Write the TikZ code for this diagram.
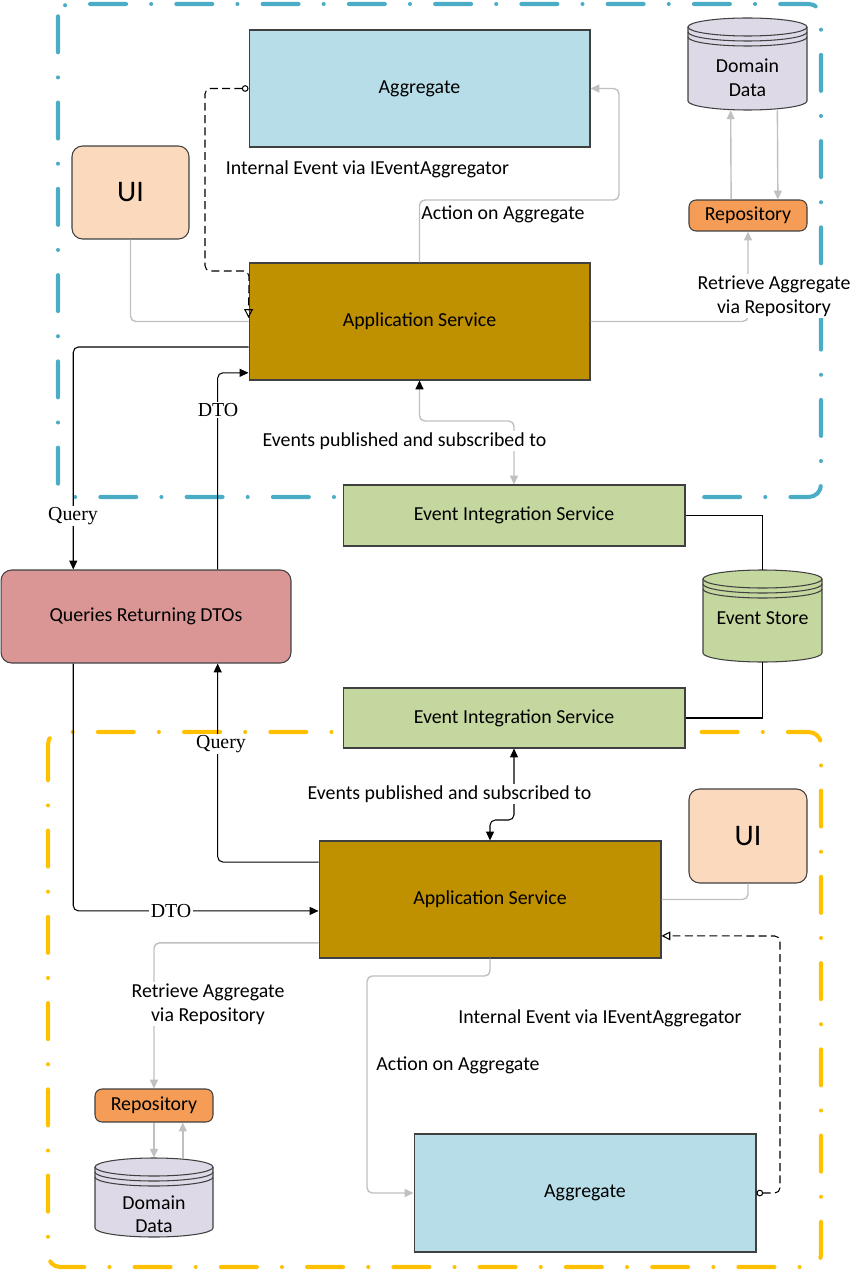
\documentclass[tikz,border=0pt]{standalone}
\usepackage{fontspec}
\setmainfont{Carlito}
\newfontfamily\dtofont{Liberation Serif}
\usetikzlibrary{arrows.meta}

\definecolor{aggfill}{HTML}{B7DDE8}
\definecolor{appfill}{HTML}{BF9000}
\definecolor{eisfill}{HTML}{C4D79F}
\definecolor{uifill}{HTML}{FBD9BD}
\definecolor{repofill}{HTML}{F59D56}
\definecolor{datafill}{HTML}{DDD9E6}
\definecolor{qryfill}{HTML}{D99694}
\definecolor{ctxblue}{HTML}{4BACC6}
\definecolor{ctxgold}{HTML}{FFC000}
\definecolor{softgray}{HTML}{C0C0C0}
\definecolor{boxline}{HTML}{404040}

% database drum: left, top, width, height, fill
\newcommand{\drum}[5]{%
  \filldraw[fill=#5, draw=boxline, line width=0.6pt]
    (#1,#2+9) -- (#1,#2+#4-9) arc (180:0:{#3/2} and 9)
    -- (#1+#3,#2+9) arc (0:-180:{#3/2} and 9) -- cycle;
  \draw[boxline, line width=0.6pt] (#1,#2+9) arc (180:0:{#3/2} and 9)
    (#1,#2+14) arc (180:0:{#3/2} and 9)
    (#1,#2+19) arc (180:0:{#3/2} and 9);
}

\begin{document}
\begin{tikzpicture}[x=0.02cm, y=-0.02cm,
  every node/.style={font=\fontsize{11.3}{13.6}\selectfont},
  box/.style={draw=boxline, line width=0.6pt, inner sep=0pt, align=center},
  tag/.style={fill=white, inner sep=1pt, align=center},
  dtotag/.style={fill=white, inner sep=1pt, font=\dtofont\fontsize{11.3}{13.6}\selectfont},
  ctx/.style={line width=2.3pt, line cap=round, rounded corners=7pt,
    dash pattern=on 20.5pt off 14.3pt on 0pt off 14.3pt},
  flow/.style={draw=black, line width=0.6pt, rounded corners=3pt,
    -{Triangle[length=5pt,width=4.5pt]}},
  flowboth/.style={flow, {Triangle[length=5pt,width=4.5pt]}-{Triangle[length=5pt,width=4.5pt]}},
  plain/.style={draw=black, line width=0.6pt},
  soft/.style={draw=softgray, line width=0.8pt, rounded corners=3pt,
    -{Triangle[length=5pt,width=4.5pt]}},
  softline/.style={draw=softgray, line width=0.8pt, rounded corners=3pt},
  evt/.style={draw=black, line width=0.6pt, dash pattern=on 4.5pt off 2.5pt, rounded corners=3pt,
    {Circle[open,length=3.8pt,width=3.8pt]}-{Triangle[open,length=5pt,width=5pt]}},
]
\useasboundingbox (0,0) rectangle (862,1270);

% Context boundaries
\draw[ctx, ctxblue] (58,4) rectangle (821,497);
\draw[ctx, ctxgold] (48,732) rectangle (821,1267);

% Upper context
\drum{688}{18}{119}{92}{datafill}
\node[minimum width=2.38cm, minimum height=1.84cm, inner sep=0pt,
  label={[align=center, yshift=-8pt]center:Domain\\Data}] (ddT) at (747.5,64) {};
\node[box, fill=aggfill, minimum width=6.82cm, minimum height=2.34cm] (aggT) at (419.5,88.5) {Aggregate};
\node[box, fill=uifill, rounded corners=6pt, minimum width=2.34cm, minimum height=1.86cm,
  font=\fontsize{17}{20}\selectfont] (uiT) at (130.5,192.5) {UI};
\node[box, fill=repofill, rounded corners=4pt, minimum width=2.36cm, minimum height=0.62cm] (repoT) at (748,215.5) {Repository};
\node[box, fill=appfill, minimum width=6.82cm, minimum height=2.34cm] (appT) at (419.5,321.5) {Application Service};

% Event integration
\node[box, fill=eisfill, minimum width=6.84cm, minimum height=1.22cm] (eisA) at (514,515.5) {Event Integration Service};
\drum{703}{570}{119}{92}{eisfill}
\node[minimum width=2.38cm, minimum height=1.84cm, inner sep=0pt,
  label={[yshift=-1pt]center:Event Store}] (store) at (762.5,616) {};
\node[box, fill=qryfill, rounded corners=6pt, minimum width=5.8cm, minimum height=1.86cm] (qry) at (146,616.5) {Queries Returning DTOs};
\node[box, fill=eisfill, minimum width=6.84cm, minimum height=1.2cm] (eisB) at (514,718) {Event Integration Service};

% Lower context
\node[box, fill=uifill, rounded corners=6pt, minimum width=2.36cm, minimum height=1.88cm,
  font=\fontsize{17}{20}\selectfont] (uiB) at (748,836) {UI};
\node[box, fill=appfill, minimum width=6.84cm, minimum height=2.34cm] (appB) at (490,899.5) {Application Service};
\node[box, fill=repofill, rounded corners=4pt, minimum width=2.36cm, minimum height=0.66cm] (repoB) at (154,1105.5) {Repository};
\drum{95}{1158}{118}{79}{datafill}
\node[minimum width=2.36cm, minimum height=1.58cm, inner sep=0pt,
  label={[align=center, yshift=-9.5pt]center:Domain\\Data}] (ddB) at (154,1197.5) {};
\node[box, fill=aggfill, minimum width=6.84cm, minimum height=2.36cm] (aggB) at (585,1193) {Aggregate};

% Upper connectors
\draw[evt] (aggT.west) -| (205,271) -- (249,271) -- ([yshift=2pt]appT.west);
\draw[soft] (appT.north) |- (619,200) |- (aggT.east);
\draw[softline] (uiT.south) |- (appT.west);
\draw[soft] (appT.east) -| (repoT.south);
\draw[soft] ([xshift=-9.6pt]repoT.north) -- ([xshift=-9.6pt]ddT.south);
\draw[soft] ([xshift=17pt]ddT.south) -- ([xshift=17pt]repoT.north);
\draw[soft, {Triangle[length=5pt,width=4.5pt]}-{Triangle[length=5pt,width=4.5pt,color=black]}]
  (eisA.north) -- (514,421) -| (appT.south);
\draw[flow] ([yshift=-14.5pt]appT.west) -| ([xshift=-41.4pt]qry.north);
\draw[flow] ([xshift=40.8pt]qry.north) |- ([yshift=-29.2pt]appT.west);

% Event store links
\draw[plain] (eisA.east) -| (store.north);
\draw[plain] (store.south) |- (eisB.east);

% Lower connectors
\draw[flow] ([yshift=21.3pt]appB.west) -| ([xshift=40.8pt]qry.south);
\draw[flow] ([xshift=-41.4pt]qry.south) |- ([yshift=-6.5pt]appB.west);
\draw[flowboth] (eisB.south) -- (514,820) -| (appB.north);
\draw[softline] (uiB.south) |- (appB.east);
\draw[soft] ([yshift=-24.7pt]appB.west) -| (repoB.north);
\draw[soft] (repoB.south) -- (ddB.north);
\draw[soft] ([xshift=16.4pt]ddB.north) -- ([xshift=16.4pt]repoB.south);
\draw[soft] (appB.south) |- (367,976) |- (aggB.west);
\draw[evt] (aggB.east) -| (780,936) -- ([yshift=-20.7pt]appB.east);

% Labels
\node (intT) at (367.5,169) {Internal Event via IEventAggregator};
\node[anchor=west, inner sep=0pt] (actT) at (421,214) {Action on Aggregate};
\node[tag] (retT) at (774,296) {Retrieve Aggregate\\via Repository};
\node[tag] (evtT) at (404.5,441) {Events published and subscribed to};
\node[dtotag] (qT) at (73,516) {Query};
\node[dtotag] (dT) at (218,410) {DTO};
\node[dtotag] (qB) at (221,744) {Query};
\node[dtotag] (dB) at (171,911) {DTO};
\node[tag] (evtB) at (449.5,794) {Events published and subscribed to};
\node[tag] (retB) at (208,1004) {Retrieve Aggregate\\via Repository};
\node[anchor=west, inner sep=0pt] (actB) at (376,1065) {Action on Aggregate};
\node (intB) at (600,1018) {Internal Event via IEventAggregator};
\end{tikzpicture}
\end{document}
